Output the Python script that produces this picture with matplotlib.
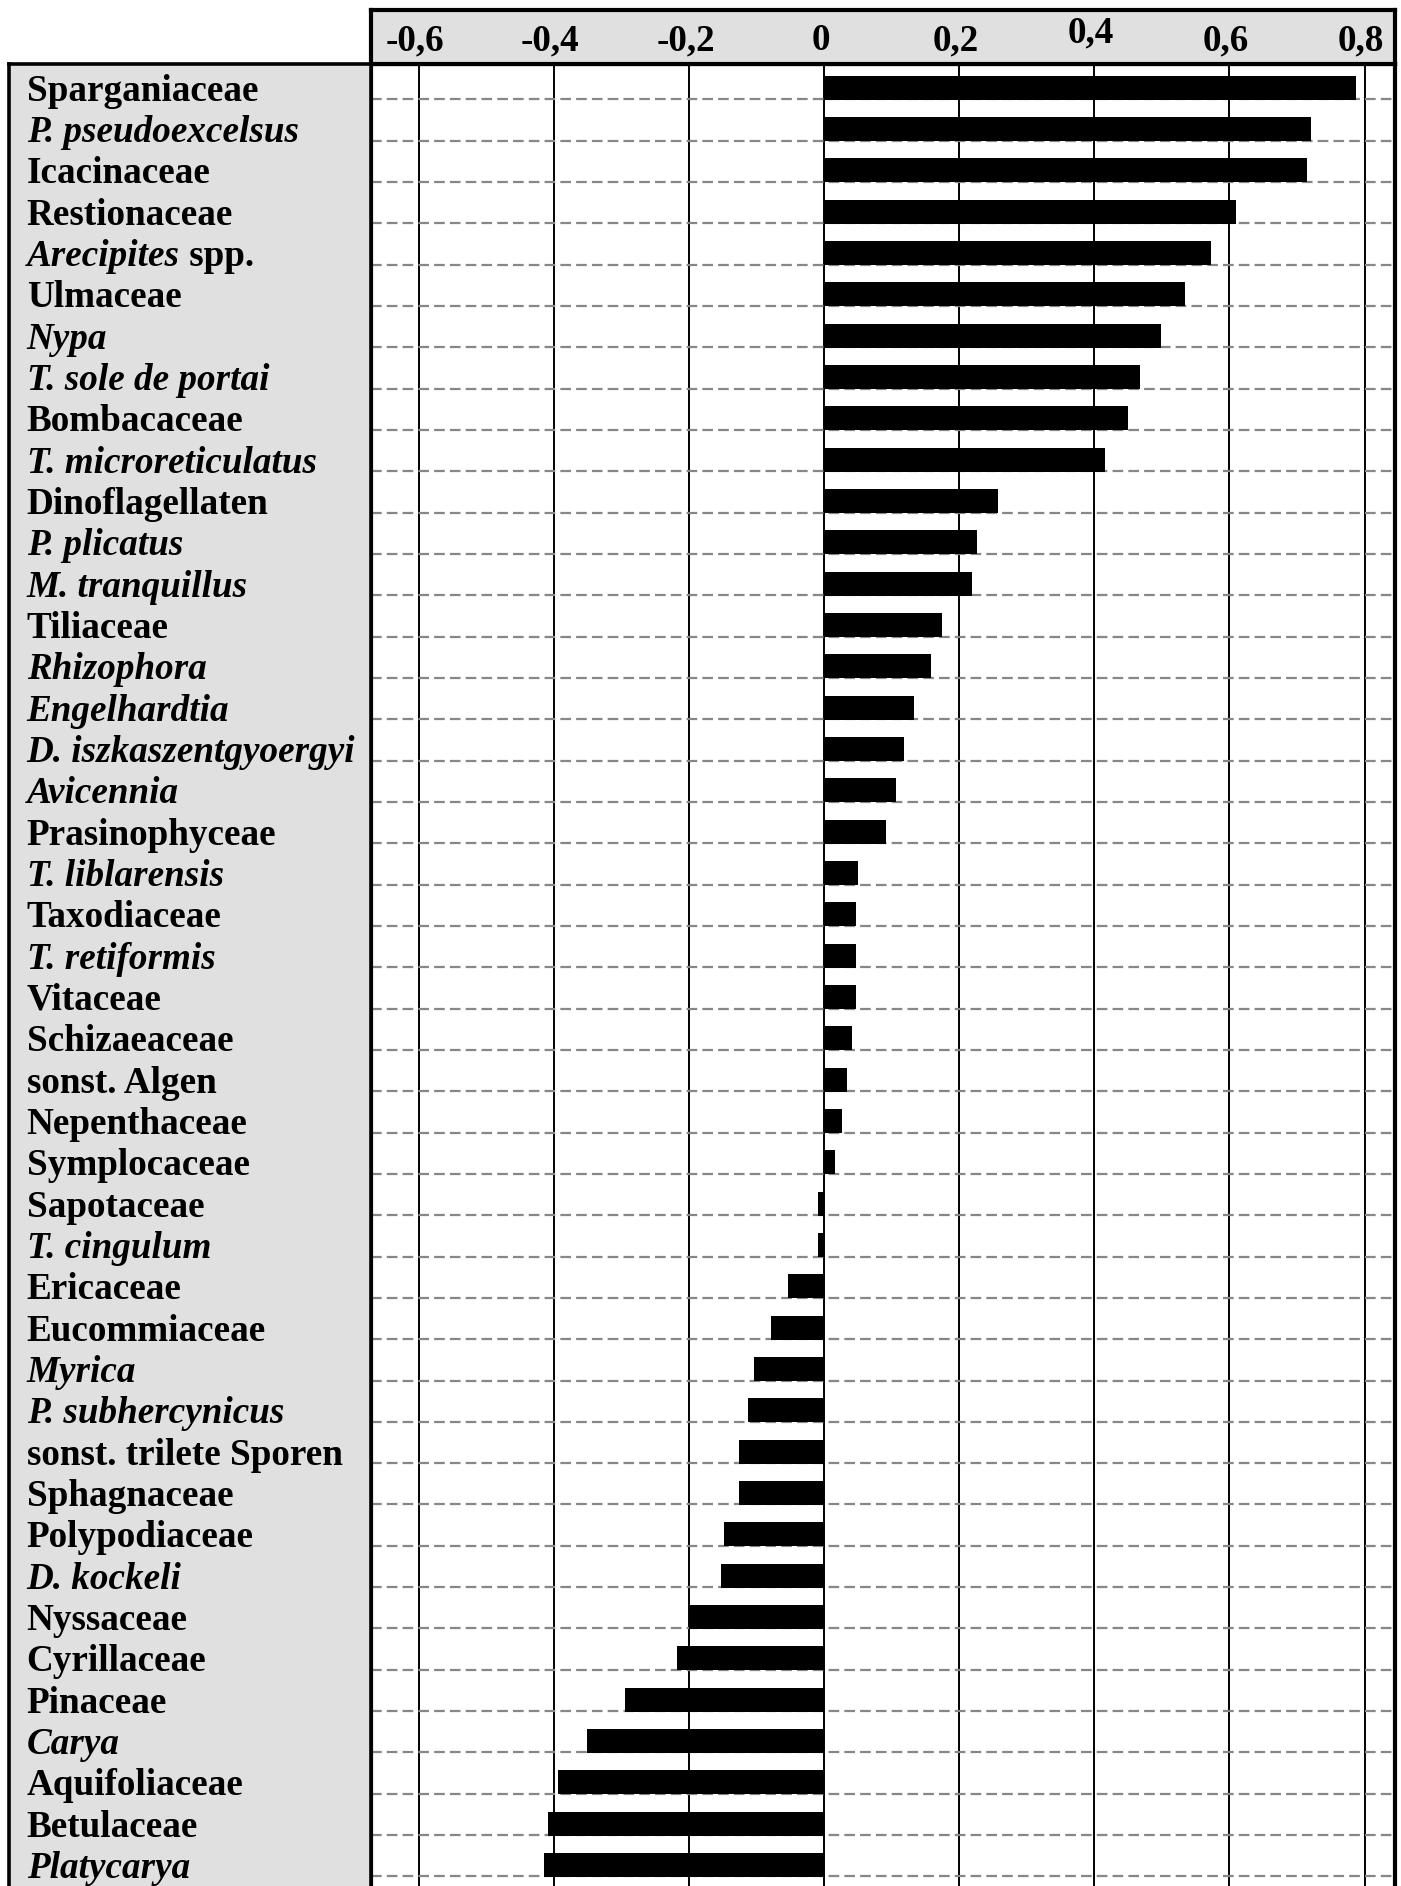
import matplotlib
matplotlib.use("Agg")
import matplotlib.pyplot as plt
from matplotlib.transforms import blended_transform_factory

# Taxa, ordered top to bottom
taxa = [
    "Sparganiaceae", "P. pseudoexcelsus", "Icacinaceae", "Restionaceae",
    "Arecipites spp.", "Ulmaceae", "Nypa", "T. sole de portai", "Bombacaceae",
    "T. microreticulatus", "Dinoflagellaten", "P. plicatus", "M. tranquillus",
    "Tiliaceae", "Rhizophora", "Engelhardtia", "D. iszkaszentgyoergyi",
    "Avicennia", "Prasinophyceae", "T. liblarensis", "Taxodiaceae",
    "T. retiformis", "Vitaceae", "Schizaeaceae", "sonst. Algen",
    "Nepenthaceae", "Symplocaceae", "Sapotaceae", "T. cingulum", "Ericaceae",
    "Eucommiaceae", "Myrica", "P. subhercynicus", "sonst. trilete Sporen",
    "Sphagnaceae", "Polypodiaceae", "D. kockeli", "Nyssaceae", "Cyrillaceae",
    "Pinaceae", "Carya", "Aquifoliaceae", "Betulaceae", "Platycarya",
]

values = [
    0.787, 0.721, 0.715, 0.609, 0.572, 0.535, 0.499, 0.467, 0.450, 0.416,
    0.258, 0.227, 0.219, 0.174, 0.159, 0.133, 0.119, 0.106, 0.092, 0.051,
    0.048, 0.048, 0.048, 0.042, 0.034, 0.026, 0.017, -0.0085, -0.0085, -0.054,
    -0.079, -0.103, -0.112, -0.126, -0.126, -0.148, -0.153, -0.200, -0.217,
    -0.294, -0.351, -0.393, -0.408, -0.414,
]

# Genus / species names set in italics ("Arecipites spp.": genus only)
italic_taxa = {
    "P. pseudoexcelsus", "Nypa", "T. sole de portai", "T. microreticulatus",
    "P. plicatus", "M. tranquillus", "Rhizophora", "Engelhardtia",
    "D. iszkaszentgyoergyi", "Avicennia", "T. liblarensis", "T. retiformis",
    "T. cingulum", "Myrica", "P. subhercynicus", "D. kockeli", "Carya",
    "Platycarya",
}
genus_spp = {"Arecipites spp."}

tick_values = [-0.6, -0.4, -0.2, 0.0, 0.2, 0.4, 0.6, 0.8]
tick_labels = ["-0,6", "-0,4", "-0,2", "0", "0,2", "0,4", "0,6", "0,8"]

# ---------------------------------------------------------------- layout
W, H = 1401, 1886
fig = plt.figure(figsize=(W / 100, H / 100), dpi=100)
fig.patch.set_facecolor("white")

def box(x0, y0, x1, y1):
    """Pixel box (origin top-left) -> figure-fraction rect."""
    return [x0 / W, 1 - y1 / H, (x1 - x0) / W, (y1 - y0) / H]

GRAY = "#e0e0e0"
FONT = dict(family="Liberation Serif", weight="bold", fontsize=26.7)

X0, X1 = 371, 1395          # plot area horizontal extent (px)
HEAD_TOP, HEAD_BOT = 10, 64
ZERO_PX, PX_PER_UNIT = 824, 675.7
ROW0_PX, ROW_PITCH = 87.7, 41.33

xlim = ((X0 - ZERO_PX) / PX_PER_UNIT, (X1 - ZERO_PX) / PX_PER_UNIT)
ylim = ((H - ROW0_PX) / ROW_PITCH, (HEAD_BOT - ROW0_PX) / ROW_PITCH)

# main bar panel
ax = fig.add_axes(box(X0, HEAD_BOT, X1, H))
ax.set_xlim(*xlim)
ax.set_ylim(*ylim)
ax.set_xticks([])
ax.set_yticks([])
for side in ("left", "right", "top"):
    ax.spines[side].set_linewidth(3.0)
ax.spines["bottom"].set_visible(False)

rows = list(range(len(taxa)))
for v in tick_values:
    ax.axvline(v, color="black", lw=1.4, zorder=1)
for r in rows:
    ax.axhline(r + 0.28, color="#8a8783", lw=1.6,
               linestyle=(0, (4.8, 2.3)), zorder=2)
ax.barh(rows, values, height=0.58, color="black", zorder=3)

# header strip with the scale values
hx = fig.add_axes(box(X0, HEAD_TOP, X1, HEAD_BOT))
hx.set_facecolor(GRAY)
hx.set_xlim(*xlim)
hx.set_ylim(0, 1)
hx.set_xticks([])
hx.set_yticks([])
for s in hx.spines.values():
    s.set_linewidth(3.0)
raised = {0.4: 0.15}
for v, lab in zip(tick_values, tick_labels):
    hx.text(v - 0.005, 0.25 + raised.get(v, 0.0), lab, ha="center",
            va="baseline", **FONT)

# label panel
lx = fig.add_axes(box(9, HEAD_BOT, X0, H))
lx.set_facecolor(GRAY)
lx.set_xlim(0, 1)
lx.set_ylim(*ylim)
lx.set_xticks([])
lx.set_yticks([])
for side in ("left", "right", "top"):
    lx.spines[side].set_linewidth(2.6)
lx.spines["bottom"].set_visible(False)

trans = blended_transform_factory(lx.transAxes, lx.transData)
x_text = (26.7 - 9) / (X0 - 9)
for r, name in zip(rows, taxa):
    y = r + 0.315
    if name in genus_spp:
        genus, rest = name.split(" ", 1)
        t = lx.text(x_text, y, genus, transform=trans, ha="left",
                    va="baseline", style="italic", **FONT)
        lx.annotate(" " + rest, xy=(1, 0), xycoords=t, ha="left",
                    va="bottom", **FONT)
    else:
        style = "italic" if name in italic_taxa else "normal"
        lx.text(x_text, y, name, transform=trans, ha="left",
                va="baseline", style=style, **FONT)

fig.savefig("out.png", dpi=100, facecolor="white")
